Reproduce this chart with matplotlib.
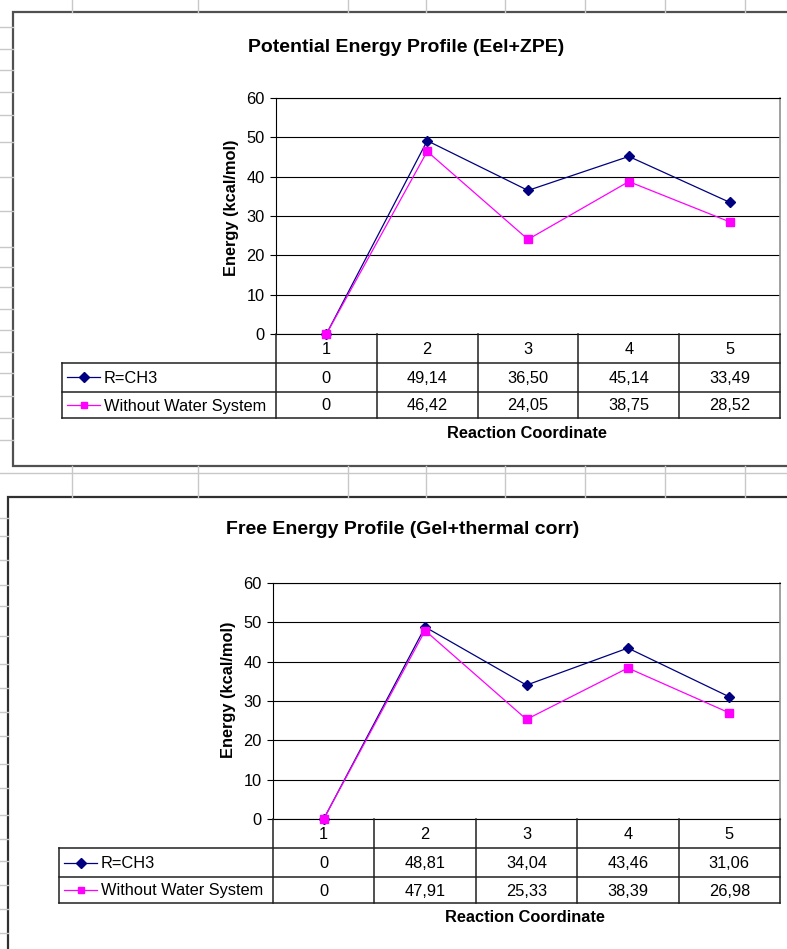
import matplotlib.pyplot as plt
from matplotlib.patches import Rectangle

plt.rcParams['font.family'] = ['Liberation Sans', 'DejaVu Sans']

W, H = 787, 949

# reaction coordinate points and series
categories = [1, 2, 3, 4, 5]
series_names = ['R=CH3', 'Without Water System']
series_colors = ['#000080', '#FF00FF']
series_markers = ['D', 's']

pe_title = 'Potential Energy Profile (Eel+ZPE)'
pe_r_ch3 = [0, 49.14, 36.50, 45.14, 33.49]
pe_no_water = [0, 46.42, 24.05, 38.75, 28.52]

fe_title = 'Free Energy Profile (Gel+thermal corr)'
fe_r_ch3 = [0, 48.81, 34.04, 43.46, 31.06]
fe_no_water = [0, 47.91, 25.33, 38.39, 26.98]

y_ticks = [0, 10, 20, 30, 40, 50, 60]
y_label = 'Energy (kcal/mol)'
x_label = 'Reaction Coordinate'

# sheet grid that shows around the charts
sheet_cols = [72, 198, 348, 426, 505, 585, 665, 745]
sheet_rows_top = [27, 49, 70, 92, 115, 142, 177, 211, 247, 267, 287, 309, 330, 352, 373, 396, 418, 440]
sheet_rows_bottom = [518, 536, 560, 585, 606, 636, 664, 688, 712, 736, 764, 788, 815, 839, 861, 885, 909, 933]

FS = 11.8       # tick / table text
FS_TITLE = 14


def px_axes(fig, x0, y0, x1, y1):
    return fig.add_axes([x0 / W, 1 - y1 / H, (x1 - x0) / W, (y1 - y0) / H])


def fmt(v):
    if v == 0:
        return '0'
    return f'{v:.2f}'.replace('.', ',')


def draw_chart(fig, lay, title, values):
    x0, y0, x1, y1 = lay['plot']
    fig.text(lay['title'][0] / W, 1 - lay['title'][1] / H, title, ha='center', va='center',
             fontsize=FS_TITLE, fontweight='bold')
    fig.text(lay['ylabel'][0] / W, 1 - lay['ylabel'][1] / H, y_label, ha='center', va='center',
             rotation=90, fontsize=FS, fontweight='bold')
    fig.text(lay['xlabel'][0] / W, 1 - lay['xlabel'][1] / H, x_label, ha='center', va='center',
             fontsize=FS, fontweight='bold')

    # plot area
    ax = px_axes(fig, x0, y0, x1, y1)
    ax.set_xlim(0.5, 5.5)
    ax.set_ylim(0, 60)
    ax.set_yticks(y_ticks)
    ax.set_xticks([])
    ax.yaxis.grid(True, color='black', lw=0.8)
    ax.set_axisbelow(True)
    ax.tick_params(axis='y', direction='out', length=4, width=0.8, pad=4, labelsize=FS)
    for side in ['left', 'bottom', 'top']:
        ax.spines[side].set_color('black')
        ax.spines[side].set_linewidth(0.8)
    ax.spines['right'].set_color('#909090')
    ax.spines['right'].set_linewidth(1.2)
    for vals, col, mk in zip(values, series_colors, series_markers):
        ax.plot(categories, vals, color=col, lw=0.9, marker=mk, ms=5.5,
                mfc=col, mec=col, clip_on=False, zorder=3)

    # data table under the plot
    leg_left = lay['legend_left']
    rows = lay['rows']
    col_w = (x1 - x0) / 5
    xmin = 0.5 - (x0 - leg_left) / col_w
    tb = px_axes(fig, leg_left, y1, x1, y1 + rows[-1])
    tb.set_xlim(xmin, 5.5)
    tb.set_ylim(rows[-1], 0)
    tb.axis('off')
    lc = '#202020'
    for c in range(6):
        tb.plot([0.5 + c, 0.5 + c], [0, rows[-1]], color=lc, lw=1.1, clip_on=False)
    for r in rows[1:]:
        tb.plot([xmin, 5.5], [r, r], color=lc, lw=1.1, clip_on=False)
    tb.plot([xmin, xmin], [rows[1], rows[-1]], color=lc, lw=1.1, clip_on=False)

    for c in categories:
        tb.text(c, (rows[0] + rows[1]) / 2 + 1, str(c), ha='center', va='center', fontsize=FS)
    for i, (vals, name, col, mk) in enumerate(zip(values, series_names, series_colors, series_markers)):
        yc = (rows[i + 1] + rows[i + 2]) / 2 + 1
        for c, v in zip(categories, vals):
            tb.text(c, yc, fmt(v), ha='center', va='center', fontsize=FS)
        kx0 = xmin + 5 / col_w
        kx1 = xmin + 38 / col_w
        tb.plot([kx0, kx1], [yc - 1, yc - 1], color=col, lw=0.9, clip_on=False)
        tb.plot([(kx0 + kx1) / 2], [yc - 1], color=col, marker=mk, ms=5, clip_on=False)
        tb.text(xmin + 42 / col_w, yc, name, ha='left', va='center', fontsize=FS)


fig = plt.figure(figsize=(W / 100, H / 100), dpi=100)

# worksheet background
bg = fig.add_axes([0, 0, 1, 1])
bg.set_xlim(0, W)
bg.set_ylim(H, 0)
bg.axis('off')
grid_c = '#c8c8c8'
for x in sheet_cols:
    bg.plot([x, x], [0, 12], color=grid_c, lw=1)
    bg.plot([x, x], [466, 497], color=grid_c, lw=1)
bg.plot([0, W], [473, 473], color=grid_c, lw=1)
for y in sheet_rows_top:
    bg.plot([0, 13], [y, y], color=grid_c, lw=1)
for y in sheet_rows_bottom:
    bg.plot([0, 8], [y, y], color=grid_c, lw=1)
bg.add_patch(Rectangle((13, 12), 800, 454, facecolor='white', edgecolor='#505050', lw=1.6))
bg.add_patch(Rectangle((8, 497), 800, 500, facecolor='white', edgecolor='#303030', lw=1.6))

top_layout = {
    'plot': (276, 98, 780, 334),
    'legend_left': 62,
    'rows': [0, 29, 58, 84],
    'title': (406, 47),
    'ylabel': (232, 208),
    'xlabel': (527, 433),
}
bottom_layout = {
    'plot': (273, 583, 780, 819),
    'legend_left': 59,
    'rows': [0, 29, 58, 84],
    'title': (403, 530),
    'ylabel': (228, 690),
    'xlabel': (525, 917),
}

draw_chart(fig, top_layout, pe_title, [pe_r_ch3, pe_no_water])
draw_chart(fig, bottom_layout, fe_title, [fe_r_ch3, fe_no_water])

fig.savefig('out.png', dpi=100)
